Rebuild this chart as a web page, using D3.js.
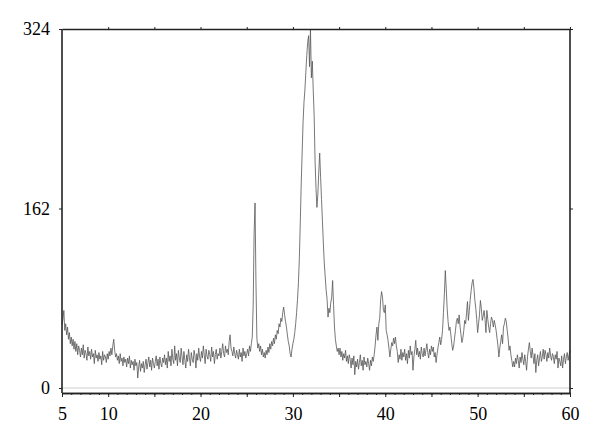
<!DOCTYPE html>
<html>
<head>
	<script src="https://d3js.org/d3.v7.min.js"></script>
	<style type="text/css">
		body { margin: 0; background: #fff; }
		.axis text { font-family: 'Liberation Serif', 'DejaVu Serif', serif; font-size: 18px; fill: #000; }
		.axis path, .axis line { stroke: #222; }
	</style>
</head>
<body>
	<script type="text/javascript">
		// 2-theta scan: start angle, step (degrees)
		var scanStart = 5,
			scanStep = 0.1;

		// intensity (counts), one row per degree, 5.0 .. 60.0
		var intensity = [
			57, 62, 70, 52, 58, 48, 55, 44, 50, 40,
			46, 38, 44, 35, 42, 33, 40, 30, 38, 34,
			28, 36, 30, 39, 27, 34, 31, 25, 37, 29,
			33, 26, 35, 28, 31, 22, 34, 27, 30, 24,
			32, 26, 29, 21, 33, 25, 30, 28, 23, 31,
			26, 33, 29, 36, 30, 38, 44, 34, 28, 31,
			25, 29, 22, 31, 24, 27, 20, 28, 23, 26,
			19, 27, 22, 29, 18, 25, 21, 24, 16, 26,
			20, 23, 9, 19, 25, 15, 22, 18, 24, 14,
			21, 26, 17, 23, 28, 19, 25, 16, 27, 22,
			18, 24, 29, 20, 26, 17, 28, 22, 19, 27,
			23, 30, 21, 27, 18, 33, 24, 29, 20, 35,
			26, 22, 38, 25, 31, 20, 34, 27, 23, 36,
			28, 21, 33, 25, 18, 30, 24, 35, 27, 20,
			32, 26, 23, 34, 29, 18, 31, 25, 36, 28,
			24, 33, 27, 38, 30, 22, 35, 29, 26, 34,
			30, 24, 37, 28, 33, 22, 30, 35, 26, 31,
			29, 36, 27, 33, 40, 31, 28, 38, 32, 35,
			30, 42, 48, 36, 33, 29, 37, 31, 27, 34,
			30, 26, 35, 28, 32, 24, 36, 29, 33, 27,
			31, 35, 29, 38, 33, 40, 46, 75, 140, 167,
			95, 45, 36, 40, 33, 38, 30, 35, 28, 32,
			27, 34, 30, 37, 32, 40, 35, 42, 38, 45,
			40, 48, 44, 52, 49, 58, 55, 63, 60, 68,
			73, 66, 60, 55, 48, 42, 38, 31, 28, 35,
			40, 44, 50, 58, 68, 80, 95, 118, 150, 185,
			212, 240, 258, 269, 285, 300, 312, 318, 290, 324,
			280, 295, 269, 246, 205, 180, 163, 175, 195, 212,
			190, 170, 150, 130, 112, 100, 88, 80, 64, 72,
			68, 77, 82, 97, 75, 55, 44, 38, 33, 36,
			30, 36, 28, 33, 25, 31, 27, 34, 24, 29,
			22, 30, 26, 18, 27, 21, 29, 12, 24, 19,
			26, 17, 23, 30, 20, 25, 16, 28, 21, 24,
			19, 27, 22, 16, 25, 20, 28, 24, 30, 38,
			48, 55, 43, 58, 63, 80, 87, 82, 70, 68,
			75, 52, 48, 43, 36, 28, 35, 41, 38, 45,
			40, 46, 38, 33, 23, 30, 26, 35, 25, 32,
			28, 35, 25, 31, 22, 34, 27, 38, 30, 33,
			16, 28, 35, 43, 30, 36, 28, 33, 26, 37,
			31, 28, 36, 29, 34, 40, 32, 27, 35, 30,
			38, 33, 37, 28, 32, 23, 30, 36, 41, 46,
			39, 44, 52, 68, 85, 106, 90, 72, 60, 52,
			55, 48, 40, 34, 38, 45, 52, 60, 63, 58,
			66, 55, 48, 41, 45, 52, 61, 58, 68, 78,
			61, 70, 80, 88, 95, 98, 90, 79, 72, 62,
			50, 58, 66, 79, 72, 61, 65, 70, 62, 50,
			70, 62, 55, 50, 58, 64, 61, 55, 61, 57,
			52, 45, 38, 28, 36, 42, 48, 40, 55, 58,
			63, 60, 52, 45, 34, 38, 30, 25, 19, 24,
			19, 27, 22, 30, 25, 18, 28, 23, 32, 26,
			21, 30, 24, 16, 28, 35, 41, 33, 27, 36,
			29, 22, 31, 14, 25, 30, 20, 27, 33, 24,
			28, 35, 26, 34, 30, 24, 32, 27, 36, 29,
			25, 31, 28, 22, 30, 26, 33, 18, 27, 24,
			20, 29, 18, 26, 31, 22, 28, 32, 25, 30,
			34
		];

		var xLabels = [5, 10, 20, 30, 40, 50, 60],
			yTicks = [0, 162, 324];

		var width = 600, height = 441;
		var plot = { left: 62, right: 570, top: 29, bottom: 393, zero: 388 };

		var data = intensity.map(function(v, i) {
			return { x: scanStart + i * scanStep, y: v };
		});

		var svg = d3.select('body')
			.append('svg')
				.attr('width', width)
				.attr('height', height);

		var x = d3.scaleLinear()
				.domain([5, 60])
				.range([plot.left, plot.right]),
			y = d3.scaleLinear()
				.domain([0, 324])
				.range([plot.zero, plot.top]);

		/** zero reference line **/
		svg.append('line')
			.attr('x1', plot.left).attr('x2', plot.right)
			.attr('y1', y(0)).attr('y2', y(0))
			.attr('stroke', '#cfcfcf')
			.attr('stroke-width', 1);

		/** diffraction trace **/
		var line = d3.line()
			.x(function(d) { return x(d.x); })
			.y(function(d) { return y(d.y); });

		svg.append('path')
			.datum(data)
			.attr('d', line)
			.attr('fill', 'none')
			.attr('stroke', '#555')
			.attr('stroke-width', 0.8);

		/** frame + ticks **/
		var minorTicks = d3.range(5, 61, 1),
			majorTicks = d3.range(5, 61, 5);

		svg.append('g')
			.attr('class', 'axis')
			.attr('transform', 'translate(0,' + plot.bottom + ')')
			.call(d3.axisBottom(x).tickValues(minorTicks).tickSize(2).tickFormat('').tickSizeOuter(0));

		svg.append('g')
			.attr('class', 'axis')
			.attr('transform', 'translate(0,' + plot.bottom + ')')
			.call(d3.axisBottom(x).tickValues(majorTicks).tickSize(4).tickSizeOuter(0)
				.tickFormat(function(d) { return xLabels.indexOf(d) >= 0 ? d : ''; }))
			.call(function(g) { g.selectAll('text').attr('dy', '1.12em'); });

		svg.append('g')
			.attr('class', 'axis')
			.attr('transform', 'translate(0,' + plot.top + ')')
			.call(d3.axisTop(x).tickValues(majorTicks.slice(1)).tickSize(2).tickFormat('').tickSizeOuter(0));

		var left = svg.append('g')
			.attr('class', 'axis')
			.attr('transform', 'translate(' + plot.left + ',0)')
			.call(d3.axisLeft(y).tickValues(yTicks).tickSize(3).tickPadding(9).tickSizeOuter(0));
		left.select('.domain').attr('d', 'M0,' + plot.bottom + 'V' + plot.top);

		var right = svg.append('g')
			.attr('class', 'axis')
			.attr('transform', 'translate(' + plot.right + ',0)')
			.call(d3.axisRight(y).tickValues(yTicks).tickSize(3).tickFormat('').tickSizeOuter(0));
		right.select('.domain').attr('d', 'M0,' + plot.bottom + 'V' + plot.top);

		svg.selectAll('.axis .domain').attr('stroke-width', 1.6);
	</script>
</body>
</html>
